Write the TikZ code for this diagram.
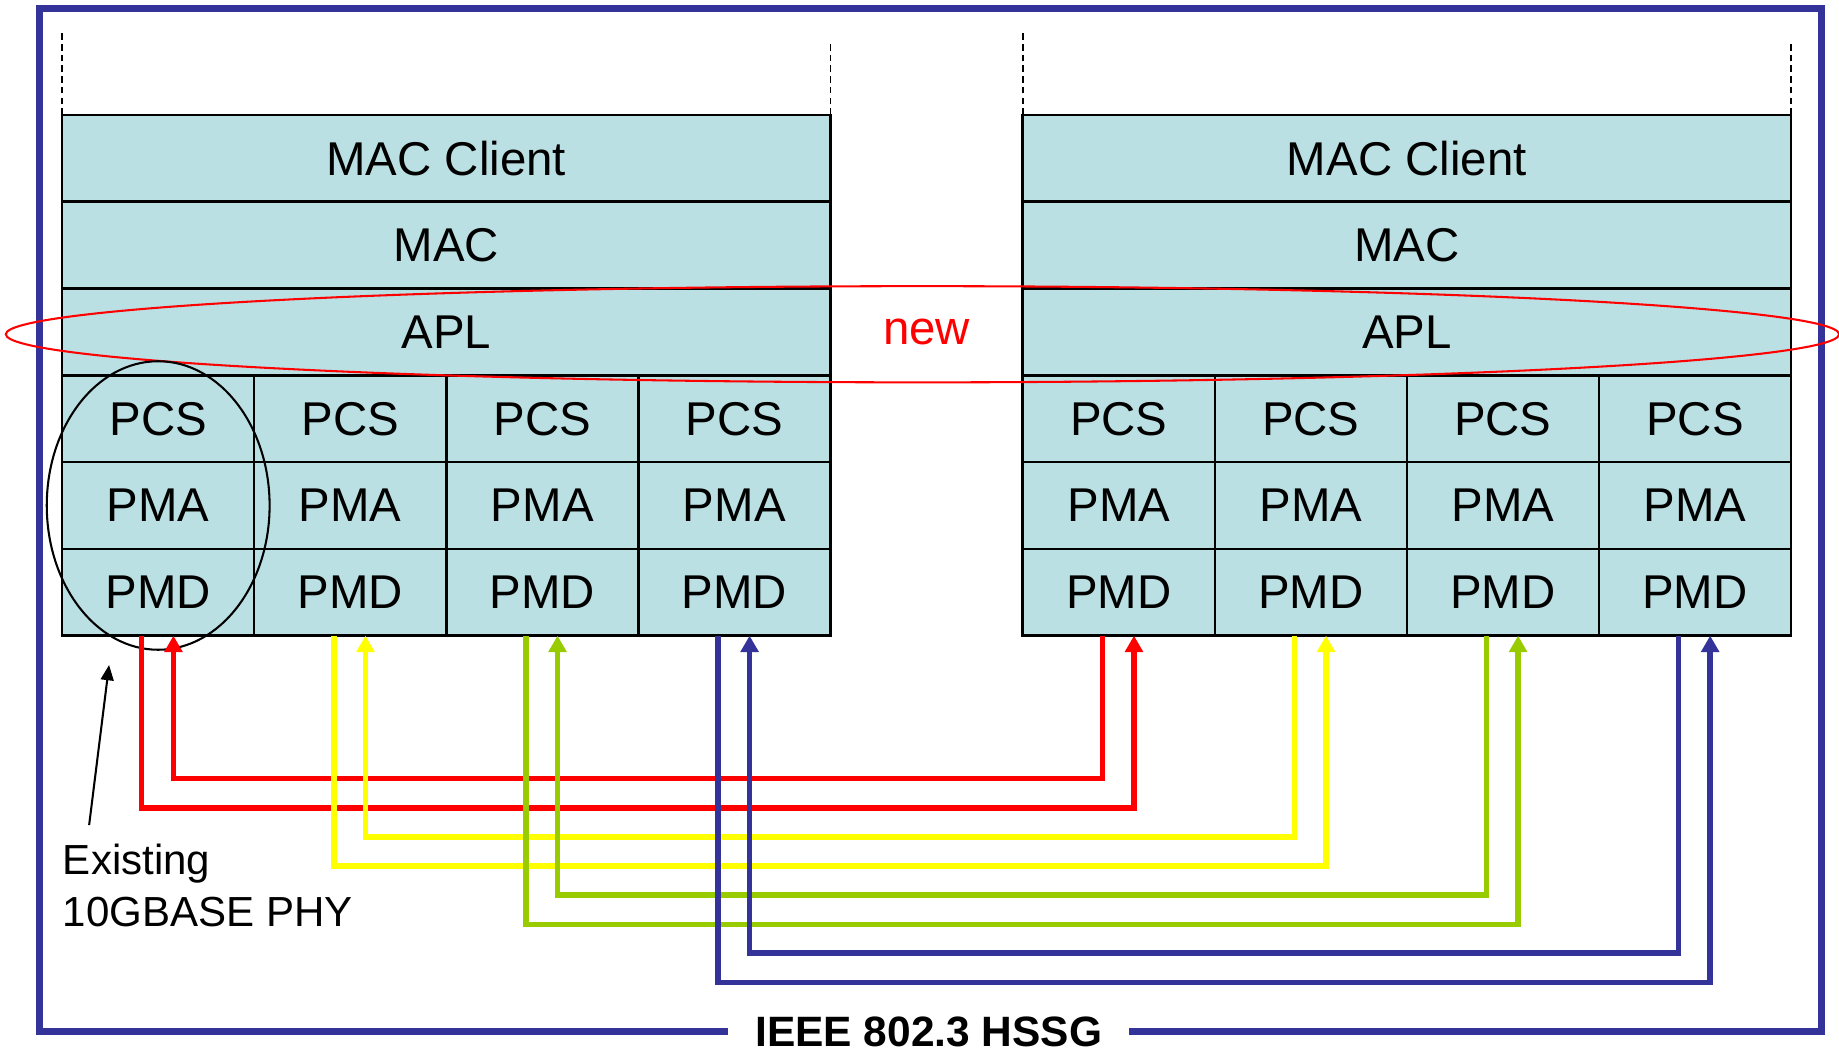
\documentclass[tikz,border=0pt]{standalone}
\usepackage{fontspec}
\setmainfont{Liberation Sans}
\usepackage{tikz}
\usetikzlibrary{arrows.meta, positioning}

\definecolor{boxfill}{RGB}{187,224,227}
\definecolor{hsblue}{RGB}{51,51,153}
\definecolor{linkred}{RGB}{255,0,0}
\definecolor{linkyel}{RGB}{255,255,0}
\definecolor{linkgrn}{RGB}{153,204,0}
\definecolor{linkblu}{RGB}{51,51,153}

\tikzset{
  layer/.style={
    rectangle, draw=black, fill=boxfill, line width=0.6pt,
    minimum width=6.55cm, minimum height=0.74cm,
    inner sep=0pt, outer sep=0pt, anchor=north west,
    font=\fontsize{11.5}{13}\selectfont,
  },
  sublayer/.style={
    layer, anchor=center, minimum width=1.6375cm,
  },
  guide/.style={
    draw=black, line width=0.4pt, dash pattern=on 1.6pt off 1pt,
  },
  link/.style={
    line width=1.3pt, -{Triangle[length=0.14cm, width=0.15cm]},
  },
  frame/.style={
    draw=hsblue, line width=0.06cm,
  },
  ptr/.style={
    -{Triangle[length=0.13cm, width=0.11cm]}, line width=0.5pt, draw=black,
  },
  tlabel/.style={
    font=\fontsize{10.2}{12.5}\selectfont, align=left, inner sep=0pt,
  }
}

\begin{document}
\begin{tikzpicture}

  \useasboundingbox (0,0) rectangle (15.68,-8.98);

  \draw[frame] (0.335,-0.075) rectangle (15.53,-8.795);

  \foreach \s/\ox in {L/0.53, R/8.72} {
    \node[layer] (\s-client) at (\ox,-0.98) {MAC Client};
    \node[layer, below=0pt of \s-client] (\s-mac) {MAC};
    \node[layer, below=0pt of \s-mac] (\s-apl) {APL};
    \foreach \i in {1,...,4} {
      \pgfmathsetmacro\cx{\ox+(\i-0.5)*1.6375}
      \node[sublayer] (\s-pcs-\i) at (\cx,-3.57) {PCS};
      \node[sublayer, below=0pt of \s-pcs-\i] (\s-pma-\i) {PMA};
      \node[sublayer, below=0pt of \s-pma-\i] (\s-pmd-\i) {PMD};
    }
    \draw[guide] (\s-client.north west) -- ++(0,0.73);
    \draw[guide] (\s-client.north east) -- ++(0,0.61);
  }

  \node[font=\fontsize{11.5}{13}\selectfont, text=linkred] (new) at (7.90,-2.83) {new};
  \draw[linkred, line width=0.5pt] (7.865,-2.85) ellipse [x radius=7.815, y radius=0.41];

  % existing PHY
  \draw[line width=0.5pt] (L-pma-1.center) ellipse [x radius=0.95, y radius=1.23];
  \node[tlabel, anchor=north west] (phy) at (0.53,-7.19) {Existing\\10GBASE PHY};
  \coordinate (phytip) at (0.93,-5.67);
  \draw[ptr] ([xshift=0.23cm, yshift=0.155cm]phy.north west) -- (phytip);

  % lane links
  \foreach \i/\c in {1/linkred, 2/linkyel, 3/linkgrn, 4/linkblu} {
    \pgfmathsetmacro\dout{1.47+0.495*(\i-1)}
    \pgfmathsetmacro\din{1.22+0.495*(\i-1)}
    \draw[link, \c] ([xshift=-0.14cm]L-pmd-\i.south) -- ++(0,-\dout)
      -| ([xshift=0.13cm]R-pmd-\i.south);
    \draw[link, \c] ([xshift=-0.14cm]R-pmd-\i.south) -- ++(0,-\din)
      -| ([xshift=0.13cm]L-pmd-\i.south);
  }

  \node[fill=white, inner xsep=0.23cm, inner ysep=0pt,
        font=\fontsize{10.3}{12}\selectfont\bfseries] (hssg) at (7.92,-8.80) {IEEE 802.3 HSSG};

\end{tikzpicture}
\end{document}
